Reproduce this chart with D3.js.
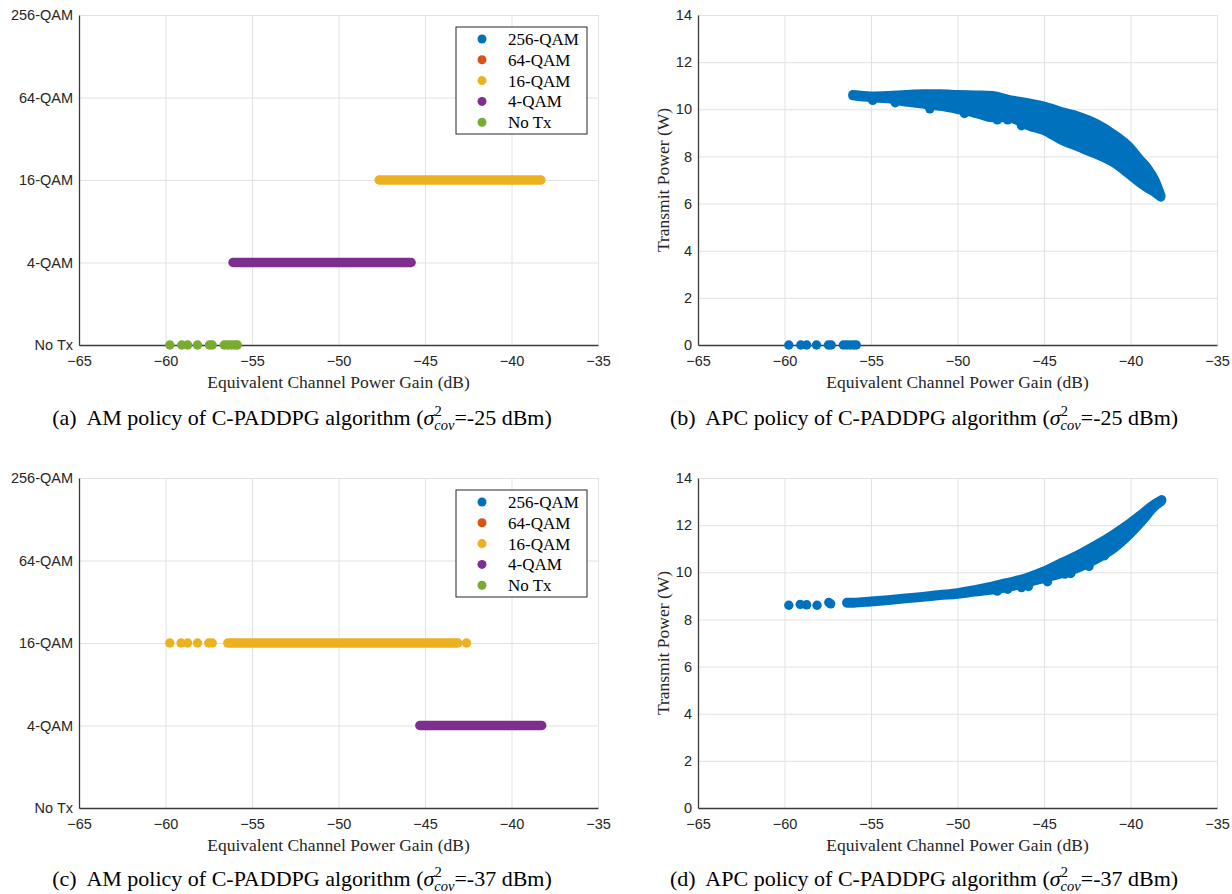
<!DOCTYPE html>
<html>
<head>
<meta charset="utf-8">
<script src="https://cdn.jsdelivr.net/npm/d3@7"></script>
<style>
  body { margin: 0; background: #fff; }
  svg { display: block; }
  .tick text { font-family: "Liberation Sans", Arial, sans-serif; font-size: 14.5px; fill: #262626; }
  .serif { font-family: "Liberation Serif", "Times New Roman", serif; }
</style>
</head>
<body>
<div id="fig"></div>
<script>
// ---------- data ----------
const gainTicks = [-65, -60, -55, -50, -45, -40, -35];
const amLevels = ["No Tx", "4-QAM", "16-QAM", "64-QAM", "256-QAM"];
const powerTicks = [0, 2, 4, 6, 8, 10, 12, 14];
const legendNames = ["256-QAM", "64-QAM", "16-QAM", "4-QAM", "No Tx"];
const legendColors = ["#0072BD", "#D95319", "#EDB120", "#7E2F8E", "#77AC30"];

const captionTags = ["(a)", "(b)", "(c)", "(d)"];
const captionPolicies = ["AM", "APC", "AM", "APC"];
const captionSigmas = ["-25", "-25", "-37", "-37"];

// (a) AM policy, sigma = -25 dBm  (gain in dB)
const noTxGainA = [-59.75, -59.06, -58.72, -58.15, -57.46, -57.3, -56.6, -56.4, -56.2, -56.0, -55.85];
const qam4RunA = [-56.1, -45.8];     // first / last marker of the dense run
const qam16RunA = [-47.65, -38.3];

// (b) APC policy, sigma = -25 dBm
const zeroGainB = [-59.75, -59.06, -58.72, -58.15, -57.46, -57.3, -56.6, -56.4, -56.2, -56.0, -55.85];
const bandGainB   = [-56.05, -55, -54, -53, -52, -51, -50, -49, -48, -47, -46, -45, -44, -43, -42, -41, -40, -39.5, -39, -38.6, -38.25];
const bandTopB    = [10.62, 10.56, 10.58, 10.62, 10.65, 10.65, 10.62, 10.6, 10.58, 10.4, 10.28, 10.13, 9.9, 9.7, 9.4, 8.95, 8.35, 7.9, 7.48, 7.0, 6.35];
const bandBottomB = [10.58, 10.5, 10.45, 10.32, 10.23, 10.13, 10.0, 9.85, 9.65, 9.64, 9.33, 9.1, 8.7, 8.4, 8.1, 7.75, 7.2, 6.9, 6.65, 6.48, 6.28];
const extraGainB  = [-54.9, -53.6, -51.6, -49.6, -49.0, -47.7, -47.1, -46.3, -45.7, -44.6];
const extraPowerB = [10.38, 10.28, 10.02, 9.82, 9.84, 9.55, 9.55, 9.3, 9.25, 8.95];

// (c) AM policy, sigma = -37 dBm
const qam16GainC = [-59.75, -59.1, -58.72, -58.15, -57.5, -57.3, -42.6];
const qam16RunC = [-56.4, -43.1];
const qam4RunC = [-45.3, -38.25];

// (d) APC policy, sigma = -37 dBm
const leftGainD  = [-59.75, -59.09, -58.72, -58.12, -57.44, -57.33];
const leftPowerD = [8.6, 8.64, 8.62, 8.6, 8.72, 8.66];
const bandGainD   = [-56.4, -56, -55, -54, -53, -52, -51, -50, -49, -48, -47, -46, -45, -44, -43, -42, -41, -40, -39.3, -38.6, -38.2];
const bandTopD    = [8.72, 8.72, 8.77, 8.83, 8.9, 8.97, 9.05, 9.13, 9.25, 9.4, 9.58, 9.77, 10.05, 10.4, 10.75, 11.15, 11.6, 12.1, 12.5, 12.9, 13.08];
const bandBottomD = [8.7, 8.7, 8.75, 8.81, 8.88, 8.95, 9.02, 9.08, 9.17, 9.25, 9.38, 9.55, 9.75, 9.95, 10.2, 10.55, 11.0, 11.65, 12.2, 12.8, 13.02];
const extraGainD  = [-47.7, -47.1, -46.3, -45.9, -44.8, -43.8, -43.45, -42.4, -41.5];
const extraPowerD = [9.2, 9.28, 9.35, 9.4, 9.6, 9.92, 9.95, 10.25, 10.7];

// ---------- drawing ----------
const W = 1232, H = 894;
const PW = 519, PH = 330;
const R = 4.7;               // marker radius
const gridColor = "#e2e2e2";
const axisColor = "#3a3a3a";
const color = name => legendColors[legendNames.indexOf(name)];

const svg = d3.select("#fig").append("svg")
  .attr("width", W)
  .attr("height", H);

function makePanel(left, top, kind) {
  const g = svg.append("g").attr("transform", `translate(${left},${top})`);
  const x = d3.scaleLinear().domain([-65, -35]).range([0, PW]);
  const y = kind === "am"
    ? d3.scalePoint().domain(amLevels).range([PH, 0])
    : d3.scaleLinear().domain([0, 14]).range([PH, 0]);

  // grid lines
  g.append("g")
    .attr("transform", `translate(0,${PH})`)
    .call(d3.axisBottom(x).tickValues(gainTicks).tickSize(-PH).tickFormat(""))
    .call(a => a.select(".domain").remove())
    .call(a => a.selectAll("line").attr("stroke", gridColor));
  const yGrid = kind === "am" ? d3.axisLeft(y) : d3.axisLeft(y).tickValues(powerTicks);
  g.append("g")
    .call(yGrid.tickSize(-PW).tickFormat(""))
    .call(a => a.select(".domain").remove())
    .call(a => a.selectAll("line").attr("stroke", gridColor));

  // axes
  g.append("g")
    .attr("transform", `translate(0,${PH})`)
    .call(d3.axisBottom(x).tickValues(gainTicks).tickSize(0).tickPadding(11))
    .call(a => a.select(".domain").attr("stroke", axisColor).attr("stroke-width", 1.3));
  const yAxis = kind === "am" ? d3.axisLeft(y) : d3.axisLeft(y).tickValues(powerTicks);
  g.append("g")
    .call(yAxis.tickSize(0).tickPadding(6))
    .call(a => a.select(".domain").attr("stroke", axisColor).attr("stroke-width", 1.3));

  // x label
  g.append("text")
    .attr("class", "serif")
    .attr("x", PW / 2)
    .attr("y", PH + 43)
    .attr("text-anchor", "middle")
    .style("font-size", "17.5px")
    .style("fill", "#262626")
    .text("Equivalent Channel Power Gain (dB)");

  if (kind === "apc") {
    g.append("text")
      .attr("class", "serif")
      .attr("transform", `translate(-29.5,${PH / 2}) rotate(-90)`)
      .attr("text-anchor", "middle")
      .style("font-size", "17.5px")
      .style("fill", "#262626")
      .text("Transmit Power (W)");
  }
  return { g, x, y };
}

function dots(p, gains, ys, fill) {
  p.g.append("g").selectAll("circle")
    .data(gains)
    .enter()
    .append("circle")
    .attr("cx", d => p.x(d))
    .attr("cy", (d, i) => ys(i))
    .attr("r", R)
    .attr("fill", fill);
}

// dense run of markers on one AM level
function run(p, range, level) {
  p.g.append("line")
    .attr("x1", p.x(range[0]))
    .attr("x2", p.x(range[1]))
    .attr("y1", p.y(level))
    .attr("y2", p.y(level))
    .attr("stroke", color(level))
    .attr("stroke-width", 2 * R)
    .attr("stroke-linecap", "round");
}

// dense cloud of markers between a lower and upper envelope
function cloud(p, gains, tops, bottoms, fill) {
  const area = d3.area()
    .x((d, i) => p.x(gains[i]))
    .y0((d, i) => p.y(bottoms[i]))
    .y1((d, i) => p.y(tops[i]))
    .curve(d3.curveMonotoneX);
  p.g.append("path")
    .attr("d", area(gains))
    .attr("fill", fill)
    .attr("stroke", fill)
    .attr("stroke-width", 2 * R)
    .attr("stroke-linejoin", "round");
}

function legend(p) {
  const lx = PW - 11 - 131, ly = 12;
  const lg = p.g.append("g").attr("transform", `translate(${lx},${ly})`);
  lg.append("rect")
    .attr("width", 131)
    .attr("height", 107)
    .attr("fill", "#fff")
    .attr("stroke", "#262626")
    .attr("stroke-width", 1);
  const item = lg.selectAll(".item")
    .data(legendNames)
    .enter()
    .append("g")
    .attr("transform", (d, i) => `translate(0,${12 + i * 20.8})`);
  item.append("circle")
    .attr("cx", 26)
    .attr("r", 4.5)
    .attr("fill", (d, i) => legendColors[i]);
  item.append("text")
    .attr("class", "serif")
    .attr("x", 52)
    .attr("dy", "0.35em")
    .style("font-size", "17px")
    .style("fill", "#000")
    .text(d => d);
}

function caption(cx, baseline, i) {
  const t = svg.append("text")
    .attr("class", "serif")
    .attr("x", cx)
    .attr("y", baseline)
    .attr("text-anchor", "middle")
    .style("font-size", "22px")
    .style("white-space", "pre")
    .style("fill", "#000");
  t.append("tspan").text(`${captionTags[i]}  ${captionPolicies[i]} policy of C-PADDPG algorithm (`);
  t.append("tspan").style("font-style", "italic").text("σ");
  t.append("tspan").attr("dy", -9.5).style("font-size", "14.5px").text("2");
  t.append("tspan").attr("dx", -7.3).attr("dy", 14).style("font-size", "14.5px").style("font-style", "italic").text("cov");
  t.append("tspan").attr("dy", -4.5).text(`=${captionSigmas[i]} dBm)`);
}

// (a)
const pa = makePanel(79, 15, "am");
dots(pa, noTxGainA, () => pa.y("No Tx"), color("No Tx"));
run(pa, qam4RunA, "4-QAM");
run(pa, qam16RunA, "16-QAM");
legend(pa);

// (b)
const pb = makePanel(698, 15, "apc");
cloud(pb, bandGainB, bandTopB, bandBottomB, color("256-QAM"));
dots(pb, extraGainB, i => pb.y(extraPowerB[i]), color("256-QAM"));
dots(pb, zeroGainB, () => pb.y(0), color("256-QAM"));

// (c)
const pc = makePanel(79, 478, "am");
dots(pc, qam16GainC, () => pc.y("16-QAM"), color("16-QAM"));
run(pc, qam16RunC, "16-QAM");
run(pc, qam4RunC, "4-QAM");
legend(pc);

// (d)
const pd = makePanel(698, 478, "apc");
cloud(pd, bandGainD, bandTopD, bandBottomD, color("256-QAM"));
dots(pd, extraGainD, i => pd.y(extraPowerD[i]), color("256-QAM"));
dots(pd, leftGainD, i => pd.y(leftPowerD[i]), color("256-QAM"));

caption(302, 425, 0);
caption(924, 425, 1);
caption(302, 886, 2);
caption(924, 886, 3);
</script>
</body>
</html>
